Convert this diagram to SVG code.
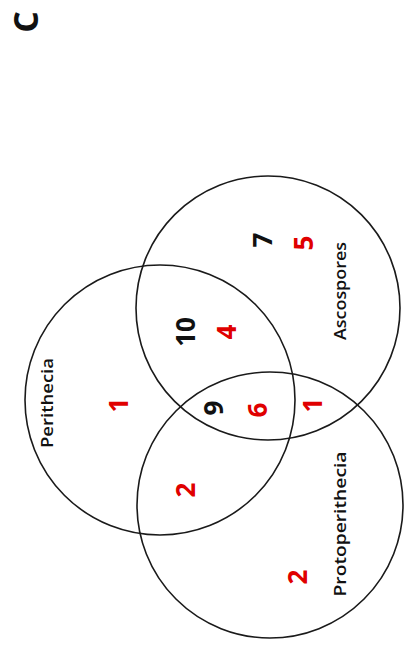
<svg xmlns="http://www.w3.org/2000/svg" width="409" height="655" viewBox="0 0 409 655">
<style>
.c{fill:none;stroke:#1a1a1a;stroke-width:1.6}
.n{font-family:"Open Sans","Liberation Sans",sans-serif;font-weight:bold;font-size:26px;text-anchor:middle;dominant-baseline:central}
.r{fill:#e00000}
.k{fill:#111}
.l{font-family:"Open Sans","Liberation Sans",sans-serif;font-weight:600;font-size:17px;text-anchor:middle;dominant-baseline:central;fill:#111}
</style>
<rect width="409" height="655" fill="#fff"/>
<text class="n k" transform="translate(25,22) rotate(-90)" style="font-size:34px">C</text>
<g id="perithecia"><circle class="c" cx="160" cy="400" r="135"/><text class="l" transform="translate(46,403) rotate(-90)" textLength="90" lengthAdjust="spacingAndGlyphs">Perithecia</text></g>
<g id="ascospores"><circle class="c" cx="268" cy="308" r="132"/><text class="l" transform="translate(339,291) rotate(-90)" textLength="98" lengthAdjust="spacingAndGlyphs">Ascospores</text></g>
<g id="protoperithecia"><circle class="c" cx="270" cy="505" r="133"/><text class="l" transform="translate(339,524) rotate(-90)" textLength="145" lengthAdjust="spacingAndGlyphs">Protoperithecia</text></g>
<g id="counts">
<text class="n r" transform="translate(118,405) rotate(-90)">1</text>
<text class="n r" transform="translate(185,490) rotate(-90)">2</text>
<text class="n k" transform="translate(185,332) rotate(-90)">10</text>
<text class="n r" transform="translate(226,332) rotate(-90)">4</text>
<text class="n k" transform="translate(213,408) rotate(-90)">9</text>
<text class="n r" transform="translate(257,410) rotate(-90)">6</text>
<text class="n r" transform="translate(312,405) rotate(-90)">1</text>
<text class="n k" transform="translate(262,240) rotate(-90)">7</text>
<text class="n r" transform="translate(303,243) rotate(-90)">5</text>
<text class="n r" transform="translate(297,577) rotate(-90)">2</text>
</g>
</svg>
